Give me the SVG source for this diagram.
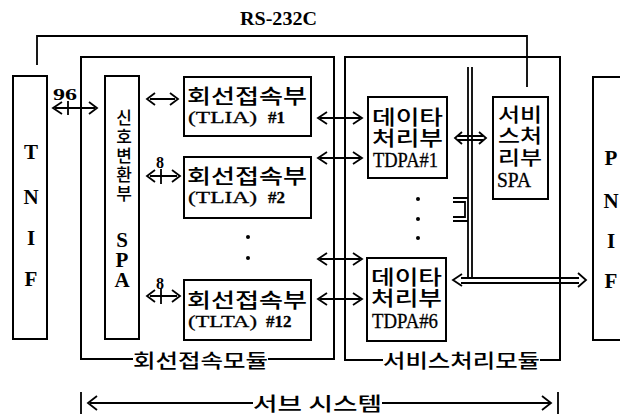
<svg xmlns="http://www.w3.org/2000/svg" width="620" height="416" viewBox="0 0 620 416">
<style>
.ln{fill:none;stroke:#000;stroke-width:1.8}
.bx{fill:none;stroke:#000;stroke-width:2}
.ar{fill:none;stroke:#000;stroke-width:1.8;stroke-linejoin:miter}
.ko{font-family:"Liberation Serif","Noto Sans CJK KR",serif;font-weight:500;fill:#000}
.lt{font-family:"Liberation Serif","Noto Sans CJK KR",serif;fill:#000;stroke:#000;stroke-width:0.3}
.bd{font-family:"Liberation Serif","Noto Sans CJK KR",serif;font-weight:bold;fill:#000}
.vt{writing-mode:vertical-rl;text-orientation:upright}
</style>
<rect width="620" height="416" fill="#fff"/>

<g id="connectors">
  <path class="ln" d="M37,65 V36 H527 V87"/>
  <path class="ar" d="M62,102 L53,108 L62,114 M55,108 H95 M89,102 L97,108 L89,114 M68,101 V115"/>
  <path class="ar" d="M155,93 L147,99 L155,105 M150,99 H175 M170,93 L178,99 L170,105"/>
  <path class="ar" d="M155,170 L147,176 L155,182 M150,176 H177 M172,170 L180,176 L172,182 M161,169 V184"/>
  <path class="ar" d="M155,290 L147,296 L155,302 M150,296 H177 M172,290 L180,296 L172,302 M161,289 V304"/>
  <path class="ar" d="M327,112 L318,118 L327,124 M320,118 H360 M353,112 L362,118 L353,124"/>
  <path class="ar" d="M327,152 L318,158 L327,164 M320,158 H360 M353,152 L362,158 L353,164"/>
  <path class="ar" d="M327,253 L318,259 L327,265 M320,259 H360 M353,253 L362,259 L353,265"/>
  <path class="ar" d="M327,293 L318,299 L327,305 M320,299 H360 M353,293 L362,299 L353,305"/>
  <path class="ln" d="M468,67 V278 M472,67 V278"/>
  <path class="ln" d="M461,278 H579 M461,283 H579"/>
  <path class="ar" d="M462,274 L453,280 L462,286"/>
  <path class="ar" d="M578,273 L586,280 L578,287"/>
  <path class="ar" d="M462,132 L455,138 L462,144 M479,132 L486,138 L479,144 M458,136 H483 M458,140 H483"/>
  <path class="ln" d="M453,198 H468 M453,221 H468 M453,202 H465 V217 H453"/>
  <path class="ln" d="M81,392 V414 M558,392 V414"/>
  <path class="ar" d="M97,396 L88,403 L97,410 M90,403 H253 M382,403 H550 M542,396 L551,403 L542,410"/>
</g>

<g id="module1">
  <path class="bx" d="M133,359 H81 V57 H334 V359 H268"/>
  <text class="ko" x="133" y="368" font-size="19" textLength="135" lengthAdjust="spacingAndGlyphs">회선접속모듈</text>
</g>
<g id="module2">
  <path class="bx" d="M383,360 H345 V57 H560 V360 H540"/>
  <text class="ko" x="383" y="368" font-size="19" textLength="157" lengthAdjust="spacingAndGlyphs">서비스처리모듈</text>
</g>

<g id="rs232c"><text class="bd" x="240" y="25" font-size="19" textLength="77" lengthAdjust="spacingAndGlyphs">RS-232C</text></g>

<g id="tnif">
  <rect class="bx" x="13" y="76" width="34" height="263"/>
  <g class="bd" font-size="21" text-anchor="middle">
    <text x="31" y="159">T</text><text x="31" y="204">N</text><text x="31" y="245">I</text><text x="31" y="286">F</text>
  </g>
</g>

<g id="pnif">
  <path class="bx" d="M622,77 H593 V340 H622"/>
  <g class="bd" font-size="21" text-anchor="middle">
    <text x="611" y="165">P</text><text x="611" y="208">N</text><text x="611" y="248">I</text><text x="611" y="288">F</text>
  </g>
</g>

<g id="label96"><text class="bd" x="53" y="100" font-size="17" textLength="24" lengthAdjust="spacingAndGlyphs">96</text></g>
<g id="label8a"><text class="bd" x="160" y="168" font-size="16" text-anchor="middle">8</text></g>
<g id="label8b"><text class="bd" x="160" y="289" font-size="16" text-anchor="middle">8</text></g>

<g id="spa-conv">
  <rect class="bx" x="105" y="76" width="34" height="263"/>
  <text class="ko vt" x="122" y="109" font-size="17" letter-spacing="2">신호변환부</text>
  <text class="bd vt" x="122" y="228" font-size="21" letter-spacing="-4">SPA</text>
</g>

<g id="tlia1">
  <rect class="bx" x="184" y="77" width="127" height="59"/>
  <text class="ko" x="187" y="104" font-size="20" textLength="120" lengthAdjust="spacingAndGlyphs">회선접속부</text>
  <text class="lt" y="123" font-size="17"><tspan x="188" textLength="69" lengthAdjust="spacingAndGlyphs">(TLIA)</tspan><tspan x="268" font-weight="bold">#1</tspan></text>
</g>
<g id="tlia2">
  <rect class="bx" x="184" y="157" width="127" height="61"/>
  <text class="ko" x="187" y="184" font-size="20" textLength="120" lengthAdjust="spacingAndGlyphs">회선접속부</text>
  <text class="lt" y="203" font-size="17"><tspan x="188" textLength="69" lengthAdjust="spacingAndGlyphs">(TLIA)</tspan><tspan x="268" font-weight="bold">#2</tspan></text>
</g>
<g id="dots1">
  <circle cx="248" cy="237" r="2"/><circle cx="248" cy="258" r="2"/>
</g>
<g id="tlia12">
  <rect class="bx" x="184" y="280" width="127" height="60"/>
  <text class="ko" x="187" y="308" font-size="20" textLength="120" lengthAdjust="spacingAndGlyphs">회선접속부</text>
  <text class="lt" y="327" font-size="17"><tspan x="188" textLength="69" lengthAdjust="spacingAndGlyphs">(TLTA)</tspan><tspan x="266" font-weight="bold">#12</tspan></text>
</g>

<g id="tdpa1">
  <rect class="bx" x="368" y="97" width="79" height="81"/>
  <text class="ko" x="372" y="125" font-size="20" textLength="71" lengthAdjust="spacingAndGlyphs">데이타</text>
  <text class="ko" x="372" y="146" font-size="20" textLength="71" lengthAdjust="spacingAndGlyphs">처리부</text>
  <text class="lt" x="373" y="167" font-size="20" textLength="65" lengthAdjust="spacingAndGlyphs">TDPA#1</text>
</g>
<g id="dots2">
  <circle cx="418" cy="199" r="2"/><circle cx="418" cy="219" r="2"/><circle cx="418" cy="238" r="2"/>
</g>
<g id="tdpa6">
  <rect class="bx" x="367" y="258" width="79" height="83"/>
  <text class="ko" x="371" y="285" font-size="20" textLength="71" lengthAdjust="spacingAndGlyphs">데이타</text>
  <text class="ko" x="371" y="306" font-size="20" textLength="71" lengthAdjust="spacingAndGlyphs">처리부</text>
  <text class="lt" x="372" y="328" font-size="20" textLength="66" lengthAdjust="spacingAndGlyphs">TDPA#6</text>
</g>

<g id="spa-svc">
  <rect class="bx" x="493" y="97" width="55" height="102"/>
  <text class="ko" x="498" y="122" font-size="19" textLength="44" lengthAdjust="spacingAndGlyphs">서비</text>
  <text class="ko" x="498" y="143" font-size="19" textLength="44" lengthAdjust="spacingAndGlyphs">스처</text>
  <text class="ko" x="498" y="165" font-size="19" textLength="44" lengthAdjust="spacingAndGlyphs">리부</text>
  <text class="lt" x="497" y="187" font-size="20" textLength="34" lengthAdjust="spacingAndGlyphs">SPA</text>
</g>

<g id="subsystem"><text class="ko" x="253" y="411" font-size="19" textLength="129" lengthAdjust="spacingAndGlyphs">서브 시스템</text></g>
</svg>
